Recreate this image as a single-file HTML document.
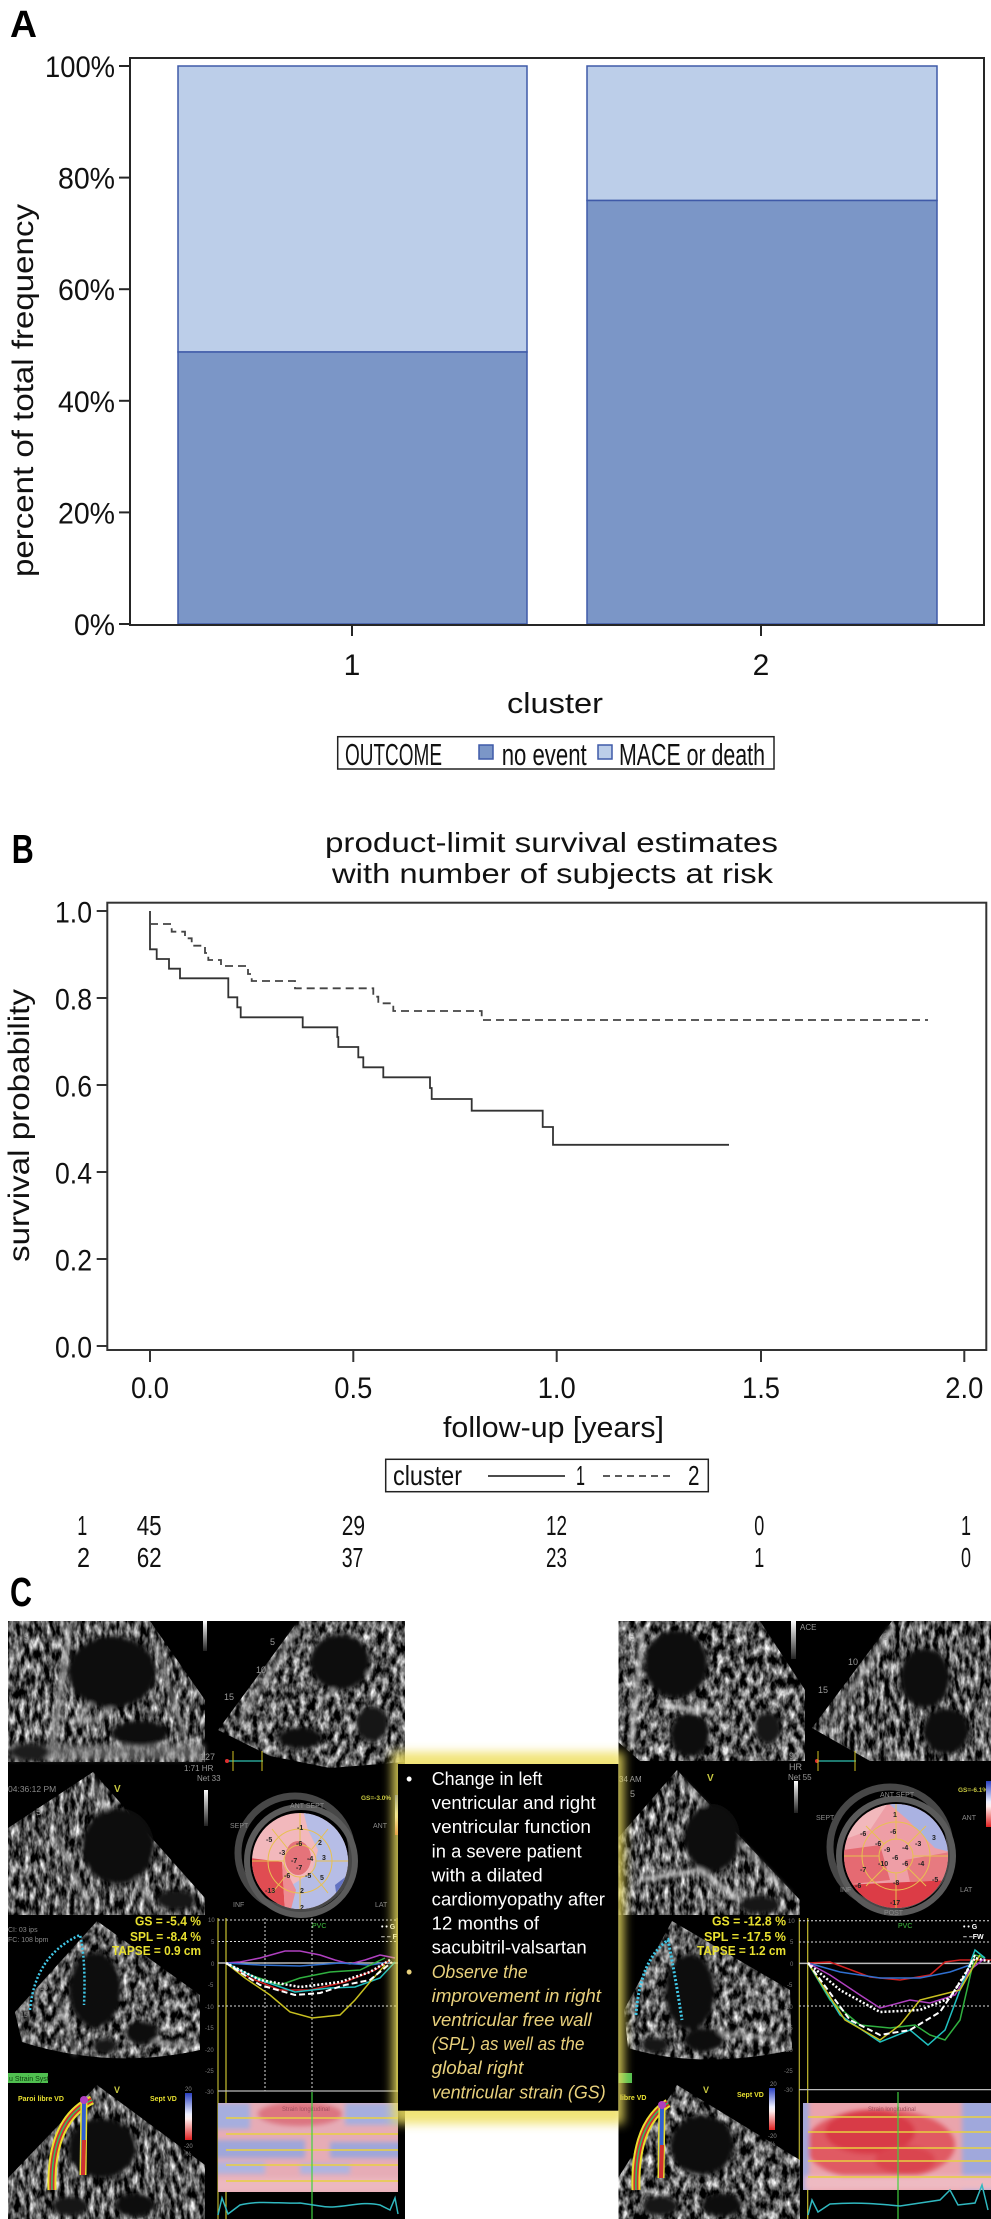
<!DOCTYPE html>
<html><head><meta charset="utf-8"><style>
html,body{margin:0;padding:0;background:#fff;}
svg{display:block;}
text{font-family:"Liberation Sans",Arial,sans-serif;}
</style></head><body>
<svg width="991" height="2219" viewBox="0 0 991 2219" xmlns="http://www.w3.org/2000/svg">
<defs>
 <linearGradient id="gbar" x1="0" y1="0" x2="0" y2="1"><stop offset="0" stop-color="#fff"/><stop offset="1" stop-color="#222"/></linearGradient>
 <linearGradient id="cbar" x1="0" y1="0" x2="0" y2="1"><stop offset="0" stop-color="#2a40c0"/><stop offset="0.45" stop-color="#eef0ff"/><stop offset="0.55" stop-color="#ffeeee"/><stop offset="1" stop-color="#e02020"/></linearGradient>
 <filter id="blur5" x="-20%" y="-20%" width="140%" height="140%"><feGaussianBlur stdDeviation="5"/></filter>
 <filter id="blur2" x="-20%" y="-20%" width="140%" height="140%"><feGaussianBlur stdDeviation="2.5"/></filter>
 <filter id="tex" x="0" y="0" width="100%" height="100%" color-interpolation-filters="sRGB">
  <feTurbulence type="fractalNoise" baseFrequency="0.2 0.08" numOctaves="3" seed="3" result="n"/>
  <feColorMatrix in="n" type="matrix" values="1.8 0 0 0 -0.56  1.8 0 0 0 -0.56  1.8 0 0 0 -0.56  0 0 0 0 1" result="g"/>
  <feComposite in="g" in2="SourceAlpha" operator="in"/>
 </filter>
 <filter id="tex2" x="0" y="0" width="100%" height="100%" color-interpolation-filters="sRGB">
  <feTurbulence type="fractalNoise" baseFrequency="0.17 0.09" numOctaves="3" seed="11" result="n"/>
  <feColorMatrix in="n" type="matrix" values="1.8 0 0 0 -0.55  1.8 0 0 0 -0.55  1.8 0 0 0 -0.55  0 0 0 0 1" result="g"/>
  <feComposite in="g" in2="SourceAlpha" operator="in"/>
 </filter>
 <clipPath id="clipL"><rect x="8" y="1621" width="397" height="598"/></clipPath>
 <clipPath id="clipR"><rect x="618.5" y="1621" width="372.5" height="598"/></clipPath>
 <clipPath id="bL"><circle cx="300" cy="1861" r="48"/></clipPath>
 <clipPath id="bR"><circle cx="896" cy="1856" r="52"/></clipPath>
 <clipPath id="hL"><rect x="218" y="2103" width="180" height="89"/></clipPath>
 <clipPath id="hR"><rect x="803" y="2103" width="188" height="87"/></clipPath>
</defs>

<!-- ================= PANEL A ================= -->
<text x="10" y="37" font-size="38" font-weight="bold" textLength="27" lengthAdjust="spacingAndGlyphs">A</text>
<rect x="178" y="66" width="349" height="286" fill="#bccee9" stroke="#3f5aa8" stroke-width="1.5"/>
<rect x="178" y="352" width="349" height="272" fill="#7b96c7" stroke="#3f5aa8" stroke-width="1.5"/>
<rect x="587" y="66" width="350" height="134.5" fill="#bccee9" stroke="#3f5aa8" stroke-width="1.5"/>
<rect x="587" y="200.5" width="350" height="423.5" fill="#7b96c7" stroke="#3f5aa8" stroke-width="1.5"/>
<rect x="130" y="58" width="854" height="567" fill="none" stroke="#262626" stroke-width="2"/>
<g stroke="#262626" stroke-width="2">
 <line x1="119" y1="66" x2="130" y2="66"/><line x1="119" y1="177.6" x2="130" y2="177.6"/>
 <line x1="119" y1="289.2" x2="130" y2="289.2"/><line x1="119" y1="400.8" x2="130" y2="400.8"/>
 <line x1="119" y1="512.4" x2="130" y2="512.4"/><line x1="119" y1="624" x2="130" y2="624"/>
 <line x1="352" y1="625" x2="352" y2="636"/><line x1="761" y1="625" x2="761" y2="636"/>
</g>
<g font-size="30" fill="#111">
 <text x="45" y="77" textLength="70" lengthAdjust="spacingAndGlyphs">100%</text>
 <text x="58" y="188.6" textLength="57" lengthAdjust="spacingAndGlyphs">80%</text>
 <text x="58" y="300.2" textLength="57" lengthAdjust="spacingAndGlyphs">60%</text>
 <text x="58" y="411.8" textLength="57" lengthAdjust="spacingAndGlyphs">40%</text>
 <text x="58" y="523.4" textLength="57" lengthAdjust="spacingAndGlyphs">20%</text>
 <text x="74" y="635" textLength="41" lengthAdjust="spacingAndGlyphs">0%</text>
 <text x="352" y="675" text-anchor="middle">1</text>
 <text x="761" y="675" text-anchor="middle">2</text>
 <text x="507" y="713" font-size="29" textLength="96" lengthAdjust="spacingAndGlyphs">cluster</text>
 <text transform="translate(33,577) rotate(-90)" x="0" y="0" textLength="373" lengthAdjust="spacingAndGlyphs">percent of total frequency</text>
</g>
<rect x="337.7" y="736.7" width="436.3" height="32.3" fill="#fff" stroke="#222" stroke-width="1.5"/>
<g font-size="31" fill="#111">
 <text x="345" y="765" textLength="97" lengthAdjust="spacingAndGlyphs">OUTCOME</text>
 <text x="501.7" y="765" textLength="85" lengthAdjust="spacingAndGlyphs">no event</text>
 <text x="619" y="765" textLength="146" lengthAdjust="spacingAndGlyphs">MACE or death</text>
</g>
<rect x="479" y="745" width="14" height="14" fill="#7b96c7" stroke="#3f5aa8" stroke-width="1.5"/>
<rect x="598" y="745" width="14" height="14" fill="#bccee9" stroke="#3f5aa8" stroke-width="1.5"/>

<!-- ================= PANEL B ================= -->
<text x="11.7" y="863" font-size="41" font-weight="bold" textLength="22" lengthAdjust="spacingAndGlyphs">B</text>
<g font-size="28" fill="#111">
 <text x="325" y="852" textLength="453" lengthAdjust="spacingAndGlyphs">product-limit survival estimates</text>
 <text x="332" y="883" textLength="441" lengthAdjust="spacingAndGlyphs">with number of subjects at risk</text>
</g>
<rect x="107.3" y="902.7" width="879" height="447.3" fill="none" stroke="#333" stroke-width="2"/>
<g stroke="#333" stroke-width="2">
 <line x1="96.7" y1="911" x2="107.3" y2="911"/><line x1="96.7" y1="998" x2="107.3" y2="998"/>
 <line x1="96.7" y1="1085" x2="107.3" y2="1085"/><line x1="96.7" y1="1172" x2="107.3" y2="1172"/>
 <line x1="96.7" y1="1259" x2="107.3" y2="1259"/><line x1="96.7" y1="1346" x2="107.3" y2="1346"/>
 <line x1="150" y1="1350" x2="150" y2="1362"/><line x1="353.3" y1="1350" x2="353.3" y2="1362"/>
 <line x1="556.7" y1="1350" x2="556.7" y2="1362"/><line x1="761" y1="1350" x2="761" y2="1362"/>
 <line x1="964.3" y1="1350" x2="964.3" y2="1362"/>
</g>
<g font-size="30" fill="#111">
 <text x="55" y="922.5" textLength="37" lengthAdjust="spacingAndGlyphs">1.0</text>
 <text x="55" y="1009.5" textLength="37" lengthAdjust="spacingAndGlyphs">0.8</text>
 <text x="55" y="1096.5" textLength="37" lengthAdjust="spacingAndGlyphs">0.6</text>
 <text x="55" y="1183.5" textLength="37" lengthAdjust="spacingAndGlyphs">0.4</text>
 <text x="55" y="1270.5" textLength="37" lengthAdjust="spacingAndGlyphs">0.2</text>
 <text x="55" y="1357.5" textLength="37" lengthAdjust="spacingAndGlyphs">0.0</text>
 <text x="131" y="1398" textLength="38" lengthAdjust="spacingAndGlyphs">0.0</text>
 <text x="334.3" y="1398" textLength="38" lengthAdjust="spacingAndGlyphs">0.5</text>
 <text x="537.7" y="1398" textLength="38" lengthAdjust="spacingAndGlyphs">1.0</text>
 <text x="742" y="1398" textLength="38" lengthAdjust="spacingAndGlyphs">1.5</text>
 <text x="945.3" y="1398" textLength="38" lengthAdjust="spacingAndGlyphs">2.0</text>
 <text x="443" y="1437" font-size="29" textLength="221" lengthAdjust="spacingAndGlyphs">follow-up [years]</text>
 <text transform="translate(29,1262) rotate(-90)" x="0" y="0" textLength="273" lengthAdjust="spacingAndGlyphs">survival probability</text>
</g>
<polyline fill="none" stroke="#333" stroke-width="1.8" points="150,911 150,949.3 156.7,949.3 156.7,959 169,959 169,968.7 180,968.7 180,978.3 228.3,978.3 228.3,997.3 237.3,997.3 237.3,1007.3 240.7,1007.3 240.7,1017.3 302.7,1017.3 302.7,1027.3 337.3,1027.3 337.3,1037 338.3,1037 338.3,1047 358.3,1047 358.3,1057.3 363.3,1057.3 363.3,1067.3 383.3,1067.3 383.3,1077.3 430,1077.3 430,1088 431.7,1088 431.7,1099 471.7,1099 471.7,1110.7 542.7,1110.7 542.7,1127 553,1127 553,1144.8 729,1144.8"/>
<polyline fill="none" stroke="#444" stroke-width="1.8" stroke-dasharray="8 5" points="150,911 150,924 171.7,924 171.7,931.7 185,931.7 185,938.3 191.7,938.3 191.7,945.7 205,945.7 205,953 208.3,953 208.3,960 221,960 221,966 248,966 248,974 251.7,974 251.7,981 295,981 295,988.3 373.3,988.3 373.3,996.7 378.3,996.7 378.3,1003.3 393.3,1003.3 393.3,1011 481.7,1011 481.7,1020 928,1020"/>
<rect x="385.7" y="1459.3" width="322.6" height="32.4" fill="#fff" stroke="#222" stroke-width="1.5"/>
<g font-size="28" fill="#111">
 <text x="393" y="1485" textLength="69" lengthAdjust="spacingAndGlyphs">cluster</text>
 <text x="576" y="1485" textLength="9" lengthAdjust="spacingAndGlyphs">1</text>
 <text x="688" y="1485" textLength="11.5" lengthAdjust="spacingAndGlyphs">2</text>
</g>
<line x1="488" y1="1476" x2="565" y2="1476" stroke="#333" stroke-width="1.8"/>
<line x1="603" y1="1476" x2="674" y2="1476" stroke="#444" stroke-width="1.8" stroke-dasharray="7 5"/>
<g font-size="28" fill="#111">
 <text x="77.3" y="1535" textLength="10" lengthAdjust="spacingAndGlyphs">1</text>
 <text x="136.7" y="1535" textLength="25" lengthAdjust="spacingAndGlyphs">45</text>
 <text x="341.7" y="1535" textLength="23.3" lengthAdjust="spacingAndGlyphs">29</text>
 <text x="546" y="1535" textLength="21" lengthAdjust="spacingAndGlyphs">12</text>
 <text x="754.3" y="1535" textLength="10" lengthAdjust="spacingAndGlyphs">0</text>
 <text x="961" y="1535" textLength="10" lengthAdjust="spacingAndGlyphs">1</text>
 <text x="77" y="1567" textLength="13" lengthAdjust="spacingAndGlyphs">2</text>
 <text x="136.7" y="1567" textLength="25" lengthAdjust="spacingAndGlyphs">62</text>
 <text x="341.7" y="1567" textLength="21.7" lengthAdjust="spacingAndGlyphs">37</text>
 <text x="546" y="1567" textLength="21" lengthAdjust="spacingAndGlyphs">23</text>
 <text x="754.3" y="1567" textLength="10" lengthAdjust="spacingAndGlyphs">1</text>
 <text x="961" y="1567" textLength="10" lengthAdjust="spacingAndGlyphs">0</text>
</g>

<!-- ================= PANEL C ================= -->
<text x="10" y="1606" font-size="41" font-weight="bold" textLength="22" lengthAdjust="spacingAndGlyphs">C</text>

<!-- LEFT BLOCK -->
<g clip-path="url(#clipL)">
<rect x="8" y="1621" width="397" height="598" fill="#000"/>
<!-- T1 -->
<polygon points="8,1621 150,1621 205,1700 205,1762 8,1762" fill="#5a5a5a" filter="url(#tex)"/>
<g filter="url(#blur2)">
 <rect x="10" y="1744" width="195" height="16" fill="#8a8a8a" opacity="0.6"/>
 <path d="M70,1625 L52,1745" stroke="#b8b8b8" stroke-width="4"/>
 <path d="M155,1640 L185,1740" stroke="#a8a8a8" stroke-width="3"/>
 <path d="M95,1700 L75,1722 L100,1718 L120,1700" fill="none" stroke="#c8c8c8" stroke-width="3"/>
 <ellipse cx="112" cy="1672" rx="44" ry="36" fill="#0c0c0c"/>
 <ellipse cx="140" cy="1733" rx="28" ry="13" fill="#101010"/>
 <ellipse cx="30" cy="1752" rx="20" ry="9" fill="#1a1a1a"/>
</g>
<!-- T2 -->
<polygon points="298,1621 405,1621 405,1762 330,1768 270,1756 218,1730" fill="#5c5c5c" filter="url(#tex2)"/>
<g filter="url(#blur2)">
 <path d="M298,1628 L238,1724" stroke="#b0b0b0" stroke-width="3"/>
 <path d="M322,1700 L345,1680 L372,1672" fill="none" stroke="#c8c8c8" stroke-width="3"/>
 <ellipse cx="340" cy="1662" rx="30" ry="28" fill="#0c0c0c"/>
 <ellipse cx="300" cy="1738" rx="22" ry="11" fill="#101010"/>
 <ellipse cx="372" cy="1724" rx="16" ry="18" fill="#141414"/>
</g>
<rect x="203" y="1621" width="4" height="30" fill="url(#gbar)"/>
<g fill="#999" font-size="9"><text x="24" y="1640">5</text><text x="270" y="1645">5</text><text x="256" y="1673">10</text><text x="224" y="1700">15</text>
<text x="200" y="1760">127</text><text x="184" y="1771" font-size="8">1:71 HR</text><text x="197" y="1781" font-size="8">Net 33</text></g>
<line x1="227" y1="1761" x2="263" y2="1761" stroke="#30c0b0" stroke-width="1.2"/>
<circle cx="227" cy="1761" r="2" fill="#e03030"/>
<line x1="233" y1="1751" x2="233" y2="1771" stroke="#d0c020" stroke-width="1"/>
<line x1="262" y1="1751" x2="262" y2="1771" stroke="#d0c020" stroke-width="1"/>
<!-- T3 -->
<polygon points="93,1772 205,1898 205,1915 8,1915 8,1828" fill="#5a5a5a" filter="url(#tex)"/>
<g filter="url(#blur2)">
 <path d="M93,1780 L150,1905" stroke="#a8a8a8" stroke-width="3"/>
 <path d="M55,1835 L92,1910" stroke="#989898" stroke-width="3"/>
 <ellipse cx="118" cy="1846" rx="36" ry="38" fill="#0e0e0e"/>
 <ellipse cx="176" cy="1900" rx="20" ry="10" fill="#141414"/>
</g>
<text x="8" y="1792" fill="#8a8a8a" font-size="8.5">04:36:12 PM</text>
<text x="114" y="1792" fill="#c8c840" font-size="10" font-weight="bold">V</text>
<text x="36" y="1815" fill="#999" font-size="9">5</text>
<rect x="204" y="1790" width="4" height="36" fill="url(#gbar)"/>
<!-- Bullseye L -->
<circle cx="295" cy="1853" r="57" fill="none" stroke="#474747" stroke-width="7"/>
<circle cx="301" cy="1861" r="54" fill="none" stroke="#5a5a5a" stroke-width="6"/>
<g clip-path="url(#bL)">
 <rect x="250" y="1811" width="102" height="102" fill="#f2b8bc"/>
 <polygon points="303,1810 352,1810 352,1913 290,1913 292,1885 312,1872 318,1850 308,1830" fill="#b6bde6"/>
 <polygon points="250,1858 282,1862 285,1913 250,1913" fill="#e04c52"/>
 <polygon points="282,1862 296,1890 290,1913 285,1913" fill="#ee8c92"/>
 <ellipse cx="298" cy="1858" rx="13" ry="17" fill="#e5737a"/>
 <polygon points="335,1885 352,1872 352,1906 338,1906" fill="#6272c2"/>
 <g fill="none" stroke="#e8c050" stroke-width="1">
  <circle cx="300" cy="1861" r="16"/><circle cx="300" cy="1861" r="32"/>
  <line x1="300" y1="1813" x2="300" y2="1845"/><line x1="300" y1="1877" x2="300" y2="1909"/>
  <line x1="252" y1="1861" x2="284" y2="1861"/><line x1="316" y1="1861" x2="348" y2="1861"/>
  <line x1="272" y1="1829" x2="288" y2="1849"/><line x1="312" y1="1873" x2="328" y2="1893"/>
  <line x1="328" y1="1829" x2="312" y2="1849"/><line x1="288" y1="1873" x2="272" y2="1893"/>
 </g>
 <g font-size="7" font-weight="bold" fill="#222">
  <text x="297" y="1830">-1</text><text x="266" y="1842">-5</text><text x="296" y="1846">-6</text><text x="279" y="1855">-3</text>
  <text x="318" y="1845">2</text><text x="291" y="1863">-7</text><text x="307" y="1861">-4</text><text x="322" y="1860">3</text>
  <text x="296" y="1870">-7</text><text x="284" y="1878">-6</text><text x="305" y="1878">-5</text><text x="320" y="1880">5</text>
  <text x="265" y="1893">-13</text><text x="300" y="1893">2</text><text x="300" y="1910">2</text><text x="339" y="1896">6</text>
 </g>
</g>
<g fill="#8a8a8a" font-size="7"><text x="290" y="1808">ANT SEPT</text><text x="230" y="1828">SEPT</text><text x="373" y="1828">ANT</text><text x="233" y="1907">INF</text><text x="375" y="1907">LAT</text></g>
<text x="361" y="1800" fill="#c8c840" font-size="6.5" font-weight="bold">GS=-3.0%</text>
<rect x="395" y="1795" width="5" height="40" fill="url(#cbar)"/>
<!-- T5 -->
<path d="M97,1921 L200,1995 L200,2050 Q110,2070 22,2042 L15,2012 Z" fill="#464646" filter="url(#tex2)"/>
<g filter="url(#blur2)">
 <path d="M60,2000 L75,2055" stroke="#989898" stroke-width="3"/>
 <path d="M130,2040 L190,2045" stroke="#a8a8a8" stroke-width="3"/>
 <ellipse cx="95" cy="1990" rx="26" ry="38" fill="#101010"/>
 <ellipse cx="142" cy="2033" rx="16" ry="12" fill="#101010"/>
 <ellipse cx="105" cy="2046" rx="12" ry="8" fill="#121212"/>
</g>
<path d="M30,2010 Q35,1955 80,1935 Q86,1960 84,2005" fill="none" stroke="#40c8e8" stroke-width="2.5" stroke-dasharray="2 2"/>
<g fill="#8a8a8a" font-size="7"><text x="8" y="1932">CI: 03 ips</text><text x="8" y="1942">FC: 108 bpm</text><text x="40" y="1990">10</text><text x="20" y="2017">15</text></g>
<g fill="#e8e030" font-size="13" font-weight="bold">
 <text x="135" y="1925.5" textLength="66" lengthAdjust="spacingAndGlyphs">GS = -5.4 %</text>
 <text x="130" y="1941" textLength="71" lengthAdjust="spacingAndGlyphs">SPL = -8.4 %</text>
 <text x="112" y="1955" textLength="89" lengthAdjust="spacingAndGlyphs">TAPSE = 0.9 cm</text>
</g>
<!-- Strain graph L -->
<g>
 <line x1="218" y1="1918" x2="218" y2="2219" stroke="#b8b030" stroke-width="1.2"/>
 <line x1="226" y1="1918" x2="226" y2="2219" stroke="#c8c030" stroke-width="1.2"/>
 <line x1="397" y1="1918" x2="397" y2="2092" stroke="#a8a030" stroke-width="1"/>
 <g stroke="#ddd" stroke-width="1" stroke-dasharray="2 2">
  <line x1="218" y1="1920" x2="398" y2="1920"/><line x1="218" y1="1941.5" x2="398" y2="1941.5"/>
  <line x1="218" y1="2006" x2="398" y2="2006"/>
  <line x1="265" y1="1918" x2="265" y2="2091"/><line x1="312" y1="1918" x2="312" y2="2091"/>
 </g>
 <line x1="218" y1="1963" x2="398" y2="1963" stroke="#bbb" stroke-width="1.5"/>
 <line x1="218" y1="2091" x2="398" y2="2091" stroke="#bbb" stroke-width="1.2"/>
 <g fill="#777" font-size="6"><text x="208" y="1922">10</text><text x="211" y="1944">5</text><text x="211" y="1966">0</text><text x="208" y="1987">-5</text><text x="205" y="2009">-10</text><text x="205" y="2030">-15</text><text x="205" y="2052">-20</text><text x="205" y="2073">-25</text><text x="205" y="2094">-30</text></g>
 <text x="312" y="1928" fill="#40c040" font-size="7">PVC</text>
 <g fill="#fff" font-size="7" font-weight="bold"><text x="381" y="1929">• • G</text><text x="381" y="1939">– – F</text></g>
 <g fill="none" stroke-width="1.5">
  <polyline stroke="#b040c0" points="226,1963 240,1962 260,1958 285,1951 300,1951 320,1955 335,1960 350,1964 365,1960 380,1955 395,1958"/>
  <polyline stroke="#3070d0" points="226,1963 260,1965 300,1966 340,1963 370,1965 390,1962"/>
  <polyline stroke="#30b040" points="226,1963 250,1975 280,1985 300,1978 330,1972 360,1970 385,1958"/>
  <polyline stroke="#d02020" points="226,1963 250,1978 280,1990 310,1990 345,1982 375,1970 390,1960"/>
  <polyline stroke="#20c0c0" points="226,1963 260,1980 295,1992 330,1988 355,1987 380,1978 395,1962"/>
  <polyline stroke="#c8c020" points="226,1963 245,1978 270,1995 290,2012 312,2018 340,2015 355,2000 370,1982 385,1965"/>
  <polyline stroke="#fff" stroke-width="2.5" stroke-dasharray="2 2" points="226,1963 260,1980 300,1987 340,1982 370,1972 390,1960"/>
  <polyline stroke="#fff" stroke-width="2" stroke-dasharray="6 3" points="226,1963 260,1985 295,1995 320,1993 345,1985 370,1980 392,1962"/>
 </g>
</g>
<!-- T7 -->
<rect x="8" y="2073" width="40" height="10" fill="#50c050"/>
<text x="9" y="2081" fill="#104010" font-size="7">u Strain Syst</text>
<path d="M97,2085 L205,2165 L205,2219 L8,2219 L8,2178 Z" fill="#4c4c4c" filter="url(#tex)"/>
<g filter="url(#blur2)">
 <ellipse cx="102" cy="2148" rx="34" ry="30" fill="#101010"/>
 <ellipse cx="135" cy="2205" rx="20" ry="12" fill="#101010"/>
 <ellipse cx="70" cy="2206" rx="18" ry="10" fill="#121212"/>
</g>
<path d="M52,2190 Q50,2120 92,2100" fill="none" stroke="#e8e030" stroke-width="9"/>
<path d="M52,2190 Q50,2120 92,2100" fill="none" stroke="#d03030" stroke-width="5"/>
<path d="M52,2190 Q50,2120 92,2100" fill="none" stroke="#30c060" stroke-width="1.5"/>
<path d="M84,2100 L83,2175" fill="none" stroke="#e8e030" stroke-width="7"/>
<path d="M84,2100 L83,2175" fill="none" stroke="#3060d0" stroke-width="4"/>
<path d="M84,2140 L83,2175" fill="none" stroke="#d03030" stroke-width="4"/>
<circle cx="84" cy="2100" r="4" fill="#b040c0"/>
<g fill="#e8e030" font-size="7" font-weight="bold"><text x="18" y="2101">Paroi libre VD</text><text x="150" y="2101">Sept VD</text></g>
<text x="114" y="2093" fill="#c8c840" font-size="9" font-weight="bold">V</text>
<rect x="185" y="2093" width="7" height="47" fill="url(#cbar)"/>
<g fill="#888" font-size="6"><text x="185" y="2091">20</text><text x="184" y="2148">-20</text><text x="186" y="2156">%</text></g>
<!-- Heatmap L -->
<g clip-path="url(#hL)">
 <rect x="218" y="2103" width="180" height="89" fill="#e6acb6"/>
 <g filter="url(#blur2)">
  <rect x="210" y="2103" width="40" height="26" fill="#a6aede"/>
  <rect x="345" y="2103" width="60" height="22" fill="#a6aede"/>
  <ellipse cx="300" cy="2114" rx="42" ry="12" fill="#dc7480"/>
  <rect x="210" y="2140" width="95" height="18" fill="#9ea6da"/>
  <rect x="330" y="2142" width="75" height="16" fill="#9ea6da"/>
  <rect x="210" y="2162" width="55" height="12" fill="#aeb4e0"/>
  <rect x="300" y="2164" width="50" height="10" fill="#aeb4e0"/>
  <rect x="210" y="2178" width="190" height="14" fill="#ecb8c0"/>
 </g>
 <g stroke="#e8d040" stroke-width="1.5">
  <line x1="226" y1="2118" x2="398" y2="2118"/><line x1="226" y1="2134" x2="398" y2="2134"/>
  <line x1="226" y1="2150" x2="398" y2="2150"/><line x1="226" y1="2165" x2="398" y2="2165"/>
  <line x1="226" y1="2181" x2="398" y2="2181"/>
 </g>
 <text x="282" y="2111" fill="#a05060" font-size="6">Strain longitudinal</text>
</g>
<line x1="312" y1="2092" x2="312" y2="2219" stroke="#40d040" stroke-width="1.2"/>
<path d="M218,2215 L222,2198 L228,2214 L240,2205 C260,2200 280,2204 300,2203 L320,2206 C340,2210 360,2200 380,2205 L390,2210 L395,2198 L398,2214" fill="none" stroke="#30b8c0" stroke-width="1.5"/>
</g>

<!-- RIGHT BLOCK -->
<g clip-path="url(#clipR)">
<rect x="618.5" y="1621" width="372.5" height="598" fill="#000"/>
<!-- T1 -->
<polygon points="618,1621 760,1621 805,1690 805,1761 640,1761 618,1742" fill="#606060" filter="url(#tex2)"/>
<g filter="url(#blur2)">
 <path d="M642,1628 L632,1745" stroke="#c0c0c0" stroke-width="4"/>
 <path d="M660,1705 L715,1712" stroke="#d8d8d8" stroke-width="4"/>
 <ellipse cx="676" cy="1664" rx="32" ry="34" fill="#0c0c0c"/>
 <ellipse cx="690" cy="1735" rx="20" ry="22" fill="#0c0c0c"/>
 <ellipse cx="768" cy="1728" rx="13" ry="16" fill="#161616"/>
</g>
<!-- T2 -->
<polygon points="892,1621 991,1621 991,1761 870,1761 812,1728" fill="#5a5a5a" filter="url(#tex)"/>
<g filter="url(#blur2)">
 <path d="M892,1628 L830,1722" stroke="#b8b8b8" stroke-width="3"/>
 <ellipse cx="925" cy="1678" rx="25" ry="30" fill="#0c0c0c"/>
 <ellipse cx="946" cy="1731" rx="23" ry="23" fill="#0c0c0c"/>
</g>
<rect x="791" y="1621" width="5" height="38" fill="url(#gbar)"/>
<g fill="#999" font-size="9"><text x="800" y="1630" font-size="8">ACE</text><text x="630" y="1640">5</text><text x="883" y="1640">5</text><text x="848" y="1665">10</text><text x="818" y="1693">15</text>
<text x="789" y="1759">90</text><text x="789" y="1770">HR</text><text x="788" y="1780" font-size="8">Net 55</text><text x="619" y="1782" font-size="8">34 AM</text><text x="630" y="1797">5</text></g>
<line x1="816" y1="1761" x2="856" y2="1761" stroke="#30c0b0" stroke-width="1.2"/>
<circle cx="817" cy="1761" r="2" fill="#e03030"/>
<line x1="818" y1="1751" x2="818" y2="1771" stroke="#d0c020" stroke-width="1"/>
<line x1="855" y1="1751" x2="855" y2="1771" stroke="#d0c020" stroke-width="1"/>
<!-- T3 -->
<polygon points="677,1770 800,1900 800,1915 618,1915 618,1838" fill="#6c6c6c" filter="url(#tex)"/>
<g filter="url(#blur2)">
 <path d="M680,1780 L790,1895" stroke="#b8b8b8" stroke-width="3"/>
 <path d="M640,1880 L700,1870 L740,1900" fill="none" stroke="#d0d0d0" stroke-width="4"/>
 <ellipse cx="712" cy="1838" rx="28" ry="34" fill="#101010"/>
 <ellipse cx="760" cy="1905" rx="20" ry="9" fill="#161616"/>
</g>
<text x="707" y="1781" fill="#c8c840" font-size="10" font-weight="bold">V</text>
<rect x="794" y="1781" width="4" height="32" fill="url(#gbar)"/>
<!-- Bullseye R -->
<circle cx="890" cy="1847" r="60" fill="none" stroke="#474747" stroke-width="7"/>
<circle cx="896" cy="1856" r="57" fill="none" stroke="#5a5a5a" stroke-width="6"/>
<g clip-path="url(#bR)">
 <rect x="843" y="1803" width="106" height="106" fill="#ee9ea6"/>
 <polygon points="888,1803 950,1803 950,1852 935,1848 922,1835 908,1820" fill="#aab2e2"/>
 <polygon points="843,1803 888,1803 870,1830 843,1840" fill="#f2b8bc"/>
 <polygon points="843,1850 880,1845 890,1880 843,1885" fill="#e56a72"/>
 <polygon points="843,1885 950,1880 950,1910 843,1910" fill="#dc3c46"/>
 <polygon points="905,1860 950,1852 950,1880 910,1882" fill="#e77a80"/>
 <g fill="none" stroke="#e8c050" stroke-width="1">
  <circle cx="896" cy="1856" r="17"/><circle cx="896" cy="1856" r="34"/>
  <line x1="896" y1="1804" x2="896" y2="1839"/><line x1="896" y1="1873" x2="896" y2="1908"/>
  <line x1="844" y1="1856" x2="879" y2="1856"/><line x1="913" y1="1856" x2="948" y2="1856"/>
  <line x1="866" y1="1826" x2="884" y2="1844"/><line x1="908" y1="1868" x2="926" y2="1886"/>
  <line x1="926" y1="1826" x2="908" y2="1844"/><line x1="884" y1="1868" x2="866" y2="1886"/>
 </g>
 <g font-size="7" font-weight="bold" fill="#222">
  <text x="893" y="1817">1</text><text x="860" y="1836">-6</text><text x="890" y="1834">-6</text><text x="932" y="1840">3</text>
  <text x="875" y="1846">-6</text><text x="884" y="1852">-9</text><text x="902" y="1850">-4</text><text x="915" y="1846">-3</text>
  <text x="892" y="1860">-6</text><text x="878" y="1866">-10</text><text x="902" y="1866">-6</text><text x="918" y="1866">-4</text>
  <text x="860" y="1872">-7</text><text x="855" y="1888">-6</text><text x="893" y="1885">-8</text><text x="932" y="1882">-5</text><text x="890" y="1905">-17</text>
 </g>
</g>
<g fill="#8a8a8a" font-size="7"><text x="880" y="1797">ANT SEPT</text><text x="816" y="1820">SEPT</text><text x="962" y="1820">ANT</text><text x="840" y="1892">INF</text><text x="960" y="1892">LAT</text><text x="884" y="1915">POST</text></g>
<text x="958" y="1792" fill="#c8c840" font-size="6.5" font-weight="bold">GS=-6.1%</text>
<rect x="986" y="1781" width="5" height="46" fill="url(#cbar)"/>
<!-- T5 -->
<path d="M672,1921 L790,1990 L792,2050 Q700,2070 628,2048 L624,2010 Z" fill="#484848" filter="url(#tex2)"/>
<g filter="url(#blur2)">
 <path d="M700,2030 L780,2040" stroke="#b8b8b8" stroke-width="3"/>
 <ellipse cx="690" cy="1992" rx="25" ry="38" fill="#101010"/>
 <ellipse cx="704" cy="2040" rx="20" ry="12" fill="#101010"/>
 <ellipse cx="655" cy="2045" rx="14" ry="8" fill="#141414"/>
</g>
<path d="M636,2015 Q640,1960 668,1940 Q676,1980 682,2020" fill="none" stroke="#40c8e8" stroke-width="3" stroke-dasharray="2 2"/>
<g fill="#e8e030" font-size="13" font-weight="bold">
 <text x="712" y="1925.5" textLength="74" lengthAdjust="spacingAndGlyphs">GS = -12.8 %</text>
 <text x="704" y="1941" textLength="82" lengthAdjust="spacingAndGlyphs">SPL = -17.5 %</text>
 <text x="697" y="1955" textLength="89" lengthAdjust="spacingAndGlyphs">TAPSE = 1.2 cm</text>
</g>
<!-- Strain graph R -->
<g>
 <line x1="799.3" y1="1918" x2="799.3" y2="2219" stroke="#b8b030" stroke-width="1.2"/>
 <line x1="807.7" y1="1918" x2="807.7" y2="2219" stroke="#c8c030" stroke-width="1.2"/>
 <g stroke="#ddd" stroke-width="1" stroke-dasharray="2 2">
  <line x1="799" y1="1920.7" x2="991" y2="1920.7"/><line x1="799" y1="1942" x2="991" y2="1942"/>
  <line x1="799" y1="2006" x2="991" y2="2006"/>
 </g>
 <line x1="799" y1="1963.4" x2="991" y2="1963.4" stroke="#bbb" stroke-width="1.5"/>
 <line x1="799" y1="2089.6" x2="991" y2="2089.6" stroke="#bbb" stroke-width="1.2"/>
 <g fill="#777" font-size="6"><text x="788" y="1923">10</text><text x="790" y="1944">5</text><text x="790" y="1966">0</text><text x="787" y="1987">-5</text><text x="784" y="2009">-10</text><text x="784" y="2030">-15</text><text x="784" y="2052">-20</text><text x="784" y="2073">-25</text><text x="784" y="2092">-30</text></g>
 <text x="898" y="1928" fill="#40c040" font-size="7">PVC</text>
 <g fill="#fff" font-size="7" font-weight="bold"><text x="963" y="1929">• • G</text><text x="963" y="1939">– –FW</text></g>
 <g fill="none" stroke-width="1.5">
  <polyline stroke="#d02020" points="808,1963 830,1962 870,1977 900,1980 930,1975 945,1962 960,1960 991,1960"/>
  <polyline stroke="#3070d0" points="808,1963 840,1972 880,1978 920,1978 950,1972 970,1965"/>
  <polyline stroke="#b040c0" points="808,1963 830,1975 860,1995 880,2008 910,2000 930,2003 955,1995 970,1970 985,1958"/>
  <polyline stroke="#30b040" points="808,1963 830,2000 860,2025 890,2028 915,2025 930,2035 945,2040 960,2020 975,1955 985,1958"/>
  <polyline stroke="#20c0c0" points="808,1963 840,2015 880,2042 910,2030 928,2045 945,2030 960,1990 975,1950 985,1958"/>
  <polyline stroke="#c8c020" points="808,1963 845,2020 880,2040 900,2025 920,2000 940,1995 960,1990 980,1955"/>
  <polyline stroke="#fff" stroke-width="2.5" stroke-dasharray="2 2" points="808,1963 840,1990 880,2012 920,2010 950,1998 975,1958 991,1962"/>
  <polyline stroke="#fff" stroke-width="2" stroke-dasharray="6 3" points="808,1963 850,2020 880,2035 910,2030 940,2012 965,1975 975,1955"/>
 </g>
</g>
<!-- T7 -->
<rect x="618" y="2073" width="14" height="10" fill="#50c050"/>
<path d="M677,2085 L800,2160 L800,2219 L618,2219 L618,2178 Z" fill="#4c4c4c" filter="url(#tex2)"/>
<g filter="url(#blur2)">
 <ellipse cx="702" cy="2145" rx="32" ry="30" fill="#101010"/>
 <ellipse cx="722" cy="2205" rx="20" ry="12" fill="#101010"/>
 <ellipse cx="660" cy="2206" rx="18" ry="10" fill="#121212"/>
</g>
<path d="M636,2190 Q634,2125 668,2103" fill="none" stroke="#e8e030" stroke-width="9"/>
<path d="M636,2190 Q634,2125 668,2103" fill="none" stroke="#d03030" stroke-width="5"/>
<path d="M636,2190 Q634,2125 668,2103" fill="none" stroke="#30c060" stroke-width="1.5"/>
<path d="M662,2105 L661,2178" fill="none" stroke="#e8e030" stroke-width="7"/>
<path d="M662,2105 L661,2178" fill="none" stroke="#3060d0" stroke-width="4"/>
<path d="M662,2145 L661,2178" fill="none" stroke="#d03030" stroke-width="4"/>
<circle cx="662" cy="2105" r="4" fill="#b040c0"/>
<g fill="#e8e030" font-size="7" font-weight="bold"><text x="620" y="2100">libre VD</text><text x="737" y="2097">Sept VD</text></g>
<text x="703" y="2093" fill="#c8c840" font-size="9" font-weight="bold">V</text>
<rect x="769" y="2088" width="6" height="42" fill="url(#cbar)"/>
<g fill="#888" font-size="6"><text x="770" y="2086">20</text><text x="768" y="2138">-20</text><text x="770" y="2146">%</text></g>
<!-- Heatmap R -->
<g clip-path="url(#hR)">
 <rect x="803" y="2103" width="188" height="87" fill="#eaa4ac"/>
 <g filter="url(#blur2)">
  <ellipse cx="880" cy="2145" rx="75" ry="36" fill="#e05a64"/>
  <ellipse cx="870" cy="2132" rx="45" ry="22" fill="#d83a46"/>
  <ellipse cx="905" cy="2160" rx="30" ry="14" fill="#da4450"/>
  <rect x="962" y="2100" width="35" height="95" fill="#a0a8dc"/>
  <rect x="800" y="2100" width="9" height="95" fill="#a0a8dc"/>
  <rect x="805" y="2176" width="190" height="14" fill="#eebac2"/>
 </g>
 <g stroke="#e8d040" stroke-width="1.5">
  <line x1="808" y1="2117" x2="991" y2="2117"/><line x1="808" y1="2132" x2="991" y2="2132"/>
  <line x1="808" y1="2148" x2="991" y2="2148"/><line x1="808" y1="2161" x2="991" y2="2161"/>
  <line x1="808" y1="2177" x2="991" y2="2177"/>
 </g>
 <text x="868" y="2111" fill="#a05060" font-size="6">Strain longitudinal</text>
</g>
<line x1="898" y1="2092" x2="898" y2="2219" stroke="#40d040" stroke-width="1.2"/>
<path d="M808,2215 L812,2200 L818,2212 L830,2204 C860,2202 880,2204 900,2206 L920,2203 L940,2200 L950,2190 L958,2205 L975,2203 L982,2185 L988,2210" fill="none" stroke="#30b8c0" stroke-width="1.5"/>
</g>

<!-- TEXT BOX -->
<rect x="392" y="1752" width="232" height="372" fill="#efe060" filter="url(#blur5)" opacity="0.85"/>
<rect x="398" y="1764" width="220.3" height="346.7" fill="#000"/>
<g font-size="18" fill="#fff">
 <text x="406" y="1785">•</text>
 <text x="431.7" y="1785" textLength="110.7" lengthAdjust="spacingAndGlyphs">Change in left</text>
 <text x="431.7" y="1809.1" textLength="164" lengthAdjust="spacingAndGlyphs">ventricular and right</text>
 <text x="431.7" y="1833.2" textLength="159.3" lengthAdjust="spacingAndGlyphs">ventricular function</text>
 <text x="431.7" y="1857.3" textLength="150" lengthAdjust="spacingAndGlyphs">in a severe patient</text>
 <text x="431.7" y="1881.4" textLength="111" lengthAdjust="spacingAndGlyphs">with a dilated</text>
 <text x="431.7" y="1905.5" textLength="173.3" lengthAdjust="spacingAndGlyphs">cardiomyopathy after</text>
 <text x="431.7" y="1929.6" textLength="107.3" lengthAdjust="spacingAndGlyphs">12 months of</text>
 <text x="431.7" y="1953.7" textLength="155" lengthAdjust="spacingAndGlyphs">sacubitril-valsartan</text>
</g>
<g font-size="18" fill="#e8d07c" font-style="italic">
 <text x="406" y="1977.8" font-style="normal">•</text>
 <text x="431.7" y="1977.8" textLength="96" lengthAdjust="spacingAndGlyphs">Observe the</text>
 <text x="431.7" y="2001.9" textLength="169.3" lengthAdjust="spacingAndGlyphs">improvement in right</text>
 <text x="431.7" y="2026" textLength="160" lengthAdjust="spacingAndGlyphs">ventricular free wall</text>
 <text x="431.7" y="2050.1" textLength="152.7" lengthAdjust="spacingAndGlyphs">(SPL) as well as the</text>
 <text x="431.7" y="2074.2" textLength="91.7" lengthAdjust="spacingAndGlyphs">global right</text>
 <text x="431.7" y="2098.3" textLength="174" lengthAdjust="spacingAndGlyphs">ventricular strain (GS)</text>
</g>
</svg>
</body></html>
